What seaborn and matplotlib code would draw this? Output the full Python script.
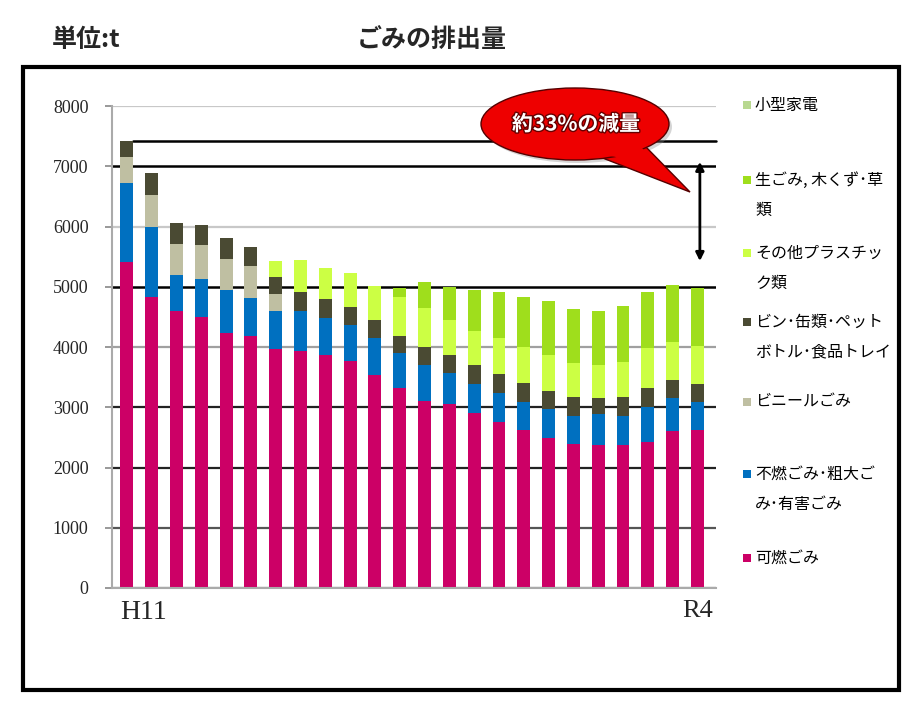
import numpy as np
import pandas as pd
import matplotlib
matplotlib.use("Agg")
import matplotlib.pyplot as plt
import seaborn as sns
from matplotlib.patches import Rectangle, Ellipse, Polygon
import matplotlib.patheffects as pe

# ---------------- data ----------------
years = ["H11", "H12", "H13", "H14", "H15", "H16", "H17", "H18", "H19", "H20",
         "H21", "H22", "H23", "H24", "H25", "H26", "H27", "H28", "H29", "H30",
         "R1", "R2", "R3", "R4"]
kanen = [5415, 4825, 4600, 4490, 4230, 4190, 3970, 3940, 3870, 3760, 3535, 3315,
         3110, 3055, 2900, 2760, 2620, 2495, 2385, 2375, 2375, 2430, 2610, 2620]
funen = [1305, 1175, 595, 645, 715, 630, 630, 660, 610, 605, 610, 580,
         590, 510, 480, 480, 470, 470, 470, 515, 480, 580, 540, 470]
vinyl = [440, 530, 515, 555, 515, 525, 275, 0, 0, 0, 0, 0,
         0, 0, 0, 0, 0, 0, 0, 0, 0, 0, 0, 0]
bincan = [260, 350, 340, 335, 350, 320, 295, 320, 310, 305, 305, 285,
          305, 305, 320, 310, 320, 310, 310, 260, 320, 315, 300, 295]
plastic = [0, 0, 0, 0, 0, 0, 260, 520, 515, 565, 560, 645,
           635, 580, 570, 595, 595, 595, 565, 550, 580, 655, 630, 630]
namagomi = [0, 0, 0, 0, 0, 0, 0, 0, 0, 0, 0, 160,
            445, 540, 675, 765, 830, 900, 895, 900, 925, 940, 950, 965]
kogata = [0] * 24

series_names = ["可燃ごみ", "不燃ごみ・粗大ごみ・有害ごみ", "ビニールごみ",
                "ビン・缶類・ペットボトル・食品トレイ", "その他プラスチック類",
                "生ごみ、木くず・草類", "小型家電"]
series_vals = [kanen, funen, vinyl, bincan, plastic, namagomi, kogata]
series_colors = ["#cc0066", "#0070c0", "#bfbfa2", "#4a4a33", "#ccff44",
                 "#9fde1c", "#b8d890"]
legend_lines = [["可燃ごみ"], ["不燃ごみ･粗大ご", "み･有害ごみ"], ["ビニールごみ"],
                ["ビン･缶類･ペット", "ボトル･食品トレイ"], ["その他プラスチッ", "ク類"],
                ["生ごみ, 木くず･草", "類"], ["小型家電"]]
yticks = [0, 1000, 2000, 3000, 4000, 5000, 6000, 7000, 8000]

# ---------------- figure ----------------
W, H = 917, 706
sns.set_theme(style="white")
plt.rcParams["font.family"] = ["Noto Sans CJK JP", "DejaVu Sans"]
fig = plt.figure(figsize=(W / 100, H / 100), dpi=100)

def fx(px):
    return px / W

def fy(py):
    return 1 - py / H

ax_left, ax_right, ax_top, ax_bot = 112, 716, 106, 588
ax = fig.add_axes([fx(ax_left), fy(ax_bot), fx(ax_right - ax_left), (ax_bot - ax_top) / H])
ax.set_facecolor("none")

df = pd.DataFrame({"year": years})
cum = np.zeros(len(years))
cums = []
for v in series_vals:
    cum = cum + np.array(v, dtype=float)
    cums.append(cum.copy())

# gridlines
grid_colors = {0: "#555555", 1000: "#555555", 2000: "#222222", 3000: "#222222",
               4000: "#a0a0a0", 5000: "#000000", 6000: "#c8c8c8", 7000: "#000000",
               8000: "#c8c8c8"}
for t in yticks:
    ax.axhline(t, color=grid_colors[t], lw=1.8 if t in (5000, 7000) else 1.6, zorder=0)

# stacked bars: draw cumulative totals from top series down
for i in range(len(series_vals) - 1, -1, -1):
    df["v"] = cums[i]
    sns.barplot(data=df, x="year", y="v", color=series_colors[i], saturation=1,
                width=0.52, ax=ax, zorder=2, linewidth=0)

ax.set_xlim(-0.6, 23.75)
ax.set_ylim(0, 8000)
ax.set_xlabel("")
ax.set_ylabel("")
ax.set_xticks([])
ax.set_yticks(yticks)
ax.set_yticklabels([str(t) for t in yticks], fontfamily="Liberation Serif", fontsize=13)
ax.tick_params(axis="y", length=5, width=1.2, color="#888888", pad=12, left=True)
for s in ["top", "right"]:
    ax.spines[s].set_visible(False)
ax.spines["left"].set_color("#aaaaaa")
ax.spines["left"].set_linewidth(1.5)
ax.spines["bottom"].set_color("#aaaaaa")
ax.spines["bottom"].set_linewidth(1.5)

# x labels
ax.text(-0.26, -0.025, "H11", transform=ax.get_xaxis_transform(), ha="left", va="top",
        fontfamily="Liberation Serif", fontsize=20)
ax.text(23, -0.025, "R4", transform=ax.get_xaxis_transform(), ha="center", va="top",
        fontfamily="Liberation Serif", fontsize=19)

# annotation lines
total0 = cums[-1][0]
ax.plot([0.26, 23.75], [total0, total0], color="black", lw=1.8, zorder=1, clip_on=False)
ax.annotate("", xy=(23.1, 5380), xytext=(23.1, 7120),
            arrowprops=dict(arrowstyle="<|-|>", lw=2, color="black", mutation_scale=12),
            zorder=5)

# callout bubble
shadow = Ellipse((fx(578), fy(127)), fx(188), 72 / H, transform=fig.transFigure,
                 facecolor="#888888", alpha=0.35, edgecolor="none", zorder=5)
fig.patches.append(shadow)
tail = Polygon([[fx(645), fy(146)], [fx(690), fy(192)], [fx(600), fy(157)]],
               closed=True, transform=fig.transFigure, facecolor="#ee0000",
               edgecolor="#550000", lw=1.0, zorder=6)
fig.patches.append(tail)
bubble = Ellipse((fx(575), fy(124)), fx(188), 72 / H, transform=fig.transFigure,
                 facecolor="#ee0000", edgecolor="#550000", lw=1.0, zorder=7)
fig.patches.append(bubble)
cover = Polygon([[fx(640), fy(146)], [fx(660), fy(166)], [fx(606), fy(155)]],
                closed=True, transform=fig.transFigure, facecolor="#ee0000",
                edgecolor="none", zorder=8)
fig.patches.append(cover)
fig.text(fx(576), fy(124), "約33%の減量", ha="center", va="center", color="white",
         fontsize=15, fontweight="bold", zorder=9,
         path_effects=[pe.withStroke(linewidth=2, foreground="#660000")])

# legend (manual, right side)
legend_y = {6: 105, 5: 180, 4: 253, 3: 322, 2: 402, 1: 474, 0: 558}
for i in range(len(series_names) - 1, -1, -1):
    y0 = legend_y[i]
    fig.patches.append(Rectangle((fx(743), fy(y0 + 4)), fx(8), 8 / H,
                                 transform=fig.transFigure, facecolor=series_colors[i],
                                 edgecolor="none", zorder=5))
    for k, line in enumerate(legend_lines[i]):
        fig.text(fx(755), fy(y0 + k * 30), line, ha="left", va="center",
                 fontsize=11.5, color="black")

# titles
fig.text(fx(52), fy(40), "単位:t", ha="left", va="center", fontsize=18, fontweight="bold")
fig.text(fx(432), fy(40), "ごみの排出量", ha="center", va="center", fontsize=18,
         fontweight="bold")

# outer frame
fig.patches.append(Rectangle((fx(23), fy(690)), fx(876), (690 - 67) / H,
                             transform=fig.transFigure, facecolor="none",
                             edgecolor="black", lw=3, zorder=10))

fig.savefig("out.png", dpi=100)
